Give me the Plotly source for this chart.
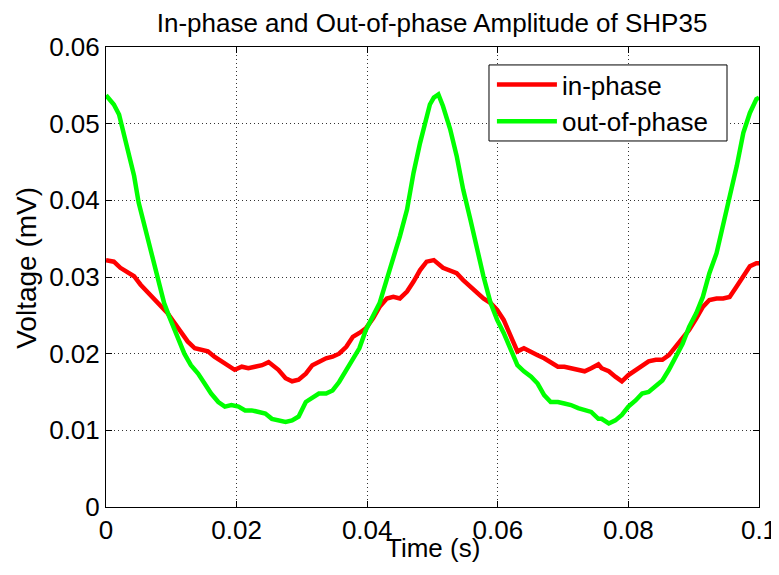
import plotly.graph_objects as go

# ---- data ----
t_out = [0.0, 0.0012, 0.002, 0.0027, 0.0035, 0.0043, 0.005, 0.0058, 0.0066, 0.0074,
         0.0081, 0.0089, 0.0097, 0.0105, 0.0112, 0.012, 0.013, 0.0141, 0.0151, 0.0161,
         0.0172, 0.0182, 0.0192, 0.0203, 0.0213, 0.0223, 0.0234, 0.0244, 0.0254, 0.0264,
         0.0275, 0.0285, 0.0295, 0.0306, 0.0316, 0.0326, 0.0337, 0.0347, 0.0357, 0.0368,
         0.0378, 0.0388, 0.0398, 0.0409, 0.0419, 0.043, 0.044, 0.045, 0.0461, 0.0471,
         0.0481, 0.0491, 0.0496, 0.0502, 0.0509, 0.0516, 0.0527, 0.0537, 0.0547, 0.0558,
         0.0568, 0.0578, 0.0589, 0.0599, 0.0609, 0.062, 0.063, 0.064, 0.0651, 0.0661,
         0.0671, 0.0681, 0.0692, 0.0702, 0.0712, 0.0723, 0.0733, 0.0743, 0.0754, 0.0759,
         0.077, 0.078, 0.079, 0.08, 0.0811, 0.0821, 0.0831, 0.0842, 0.0852, 0.0862,
         0.0873, 0.0883, 0.0893, 0.0904, 0.0914, 0.0924, 0.0935, 0.0945, 0.0955, 0.0966,
         0.0976, 0.0986, 0.0996, 0.1]
v_out = [0.0537, 0.0525, 0.0512, 0.0488, 0.0458, 0.0432, 0.0397, 0.037, 0.0344, 0.0318,
         0.0292, 0.0266, 0.0248, 0.0231, 0.0218, 0.020, 0.0185, 0.0174, 0.0161, 0.0148,
         0.0137, 0.0131, 0.0133, 0.0131, 0.0126, 0.0126, 0.0124, 0.0122, 0.0115, 0.0113,
         0.0111, 0.0113, 0.0118, 0.0137, 0.0142, 0.0148, 0.0148, 0.0152, 0.0163, 0.0179,
         0.0191, 0.0207, 0.0231, 0.0248, 0.0266, 0.0297, 0.0323, 0.0353, 0.0388, 0.0436,
         0.0475, 0.051, 0.0525, 0.0534, 0.0538, 0.0523, 0.0493, 0.0458, 0.0414, 0.0375,
         0.0336, 0.0301, 0.0266, 0.0244, 0.0227, 0.0205, 0.0185, 0.0177, 0.017, 0.0161,
         0.0146, 0.0137, 0.0137, 0.0135, 0.0133, 0.0129, 0.0126, 0.0124, 0.0115, 0.0115,
         0.0109, 0.0113, 0.012, 0.0131, 0.0139, 0.0148, 0.015, 0.0157, 0.0165, 0.0179,
         0.0196, 0.0213, 0.0235, 0.0253, 0.0274, 0.0305, 0.0331, 0.0366, 0.0405, 0.0445,
         0.0488, 0.0514, 0.0532, 0.0534]

t_in = [0.0, 0.0012, 0.0022, 0.0032, 0.0043, 0.0053, 0.0063, 0.0074, 0.0084, 0.0094,
        0.0105, 0.0115, 0.0125, 0.0136, 0.0146, 0.0156, 0.0166, 0.0177, 0.0187, 0.0197,
        0.0208, 0.0218, 0.0228, 0.0239, 0.0249, 0.0264, 0.0275, 0.0285, 0.0295, 0.0306,
        0.0316, 0.0326, 0.0337, 0.0347, 0.0357, 0.0368, 0.0378, 0.0388, 0.0398, 0.0409,
        0.0419, 0.043, 0.044, 0.045, 0.0461, 0.0471, 0.0481, 0.0491, 0.0502, 0.0516,
        0.0527, 0.0537, 0.0547, 0.0558, 0.0568, 0.0578, 0.0589, 0.0599, 0.0609, 0.062,
        0.063, 0.064, 0.0651, 0.0661, 0.0671, 0.0681, 0.0692, 0.0702, 0.0712, 0.0723,
        0.0733, 0.0743, 0.0754, 0.0759, 0.077, 0.078, 0.079, 0.08, 0.0811, 0.0821,
        0.0831, 0.0842, 0.0852, 0.0862, 0.0873, 0.0883, 0.0893, 0.0904, 0.0914, 0.0924,
        0.0935, 0.0945, 0.0955, 0.0966, 0.0976, 0.0986, 0.0996, 0.1]
v_in = [0.0322, 0.032, 0.0312, 0.0307, 0.0301, 0.029, 0.0281, 0.0272, 0.0264, 0.0253,
        0.024, 0.0227, 0.0216, 0.0207, 0.0205, 0.0203, 0.0196, 0.019, 0.0183, 0.0179,
        0.0183, 0.0181, 0.0183, 0.0185, 0.0189, 0.0179, 0.0168, 0.0164, 0.0166, 0.0174,
        0.0185, 0.019, 0.0194, 0.0196, 0.020, 0.0209, 0.0222, 0.0227, 0.0233, 0.0246,
        0.0261, 0.0272, 0.0274, 0.0272, 0.0281, 0.0294, 0.0309, 0.032, 0.0322, 0.0312,
        0.0309, 0.0305, 0.0296, 0.0288, 0.0279, 0.0272, 0.0266, 0.0257, 0.0244, 0.0222,
        0.0203, 0.0207, 0.0203, 0.0198, 0.0194, 0.0188, 0.0183, 0.0183, 0.0181, 0.0179,
        0.0177, 0.0181, 0.0186, 0.0181, 0.0177, 0.017, 0.0164, 0.0172, 0.0179, 0.0185,
        0.019, 0.0192, 0.0192, 0.0198, 0.0209, 0.022, 0.0231, 0.0246, 0.0261, 0.027,
        0.0272, 0.0272, 0.0274, 0.0288, 0.0301, 0.0314, 0.0318, 0.0318]

x_ticks = [0, 0.02, 0.04, 0.06, 0.08, 0.1]
x_tick_labels = ["0", "0.02", "0.04", "0.06", "0.08", "0.1"]
y_ticks = [0, 0.01, 0.02, 0.03, 0.04, 0.05, 0.06]
y_tick_labels = ["0", "0.01", "0.02", "0.03", "0.04", "0.05", "0.06"]

FONT = "Liberation Sans, Arial, sans-serif"

fig = go.Figure()
fig.add_trace(go.Scatter(x=t_in, y=v_in, mode="lines", name="in-phase",
                         line=dict(color="#ff0000", width=4.5)))
fig.add_trace(go.Scatter(x=t_out, y=v_out, mode="lines", name="out-of-phase",
                         line=dict(color="#00ff00", width=4.5)))

axis_common = dict(
    showline=True, linecolor="black", linewidth=1, mirror="ticks",
    ticks="inside", ticklen=6, tickcolor="black", automargin=False,
    showgrid=True, gridcolor="#333333", gridwidth=1, griddash="1px,3px",
    zeroline=False, tickfont=dict(family=FONT, size=26, color="black"),
)

# the page body adds an 8px margin, so the figure is 8px smaller on each axis
fig.update_layout(
    width=771, height=567,
    margin=dict(l=98, r=20, t=39, b=68, autoexpand=False),
    paper_bgcolor="white", plot_bgcolor="white",
    font=dict(family=FONT, size=26, color="black"),
    title=dict(text="In-phase and Out-of-phase Amplitude of SHP35",
               x=0.55, xanchor="center", y=0.9735, yanchor="middle",
               yref="container", font=dict(family=FONT, size=26, color="black")),
    xaxis=dict(range=[0, 0.1], tickvals=x_ticks, ticktext=x_tick_labels, **axis_common),
    yaxis=dict(range=[0, 0.06], tickvals=y_ticks, ticktext=y_tick_labels, **axis_common),
    legend=dict(x=0.591, y=0.9696, xanchor="left", yanchor="top",
                bgcolor="rgba(0,0,0,0)", borderwidth=0,
                font=dict(family=FONT, size=26, color="black"),
                itemwidth=60, tracegroupgap=0),
    showlegend=True,
    shapes=[
        dict(type="rect", xref="paper", yref="paper",
             x0=0.5865, x1=0.951, y0=0.7957, y1=0.961, layer="above",
             fillcolor="white", line=dict(color="black", width=1)),
    ],
    annotations=[
        dict(text="Time (s)", xref="paper", yref="paper", x=0.5, y=-0.089,
             xanchor="center", yanchor="middle", showarrow=False,
             font=dict(family=FONT, size=26, color="black")),
        dict(text="Voltage (mV)", xref="paper", yref="paper", x=-0.121, y=0.52,
             xanchor="center", yanchor="middle", showarrow=False, textangle=-90,
             font=dict(family=FONT, size=28, color="black")),
    ],
)

fig.write_html("out.html")
